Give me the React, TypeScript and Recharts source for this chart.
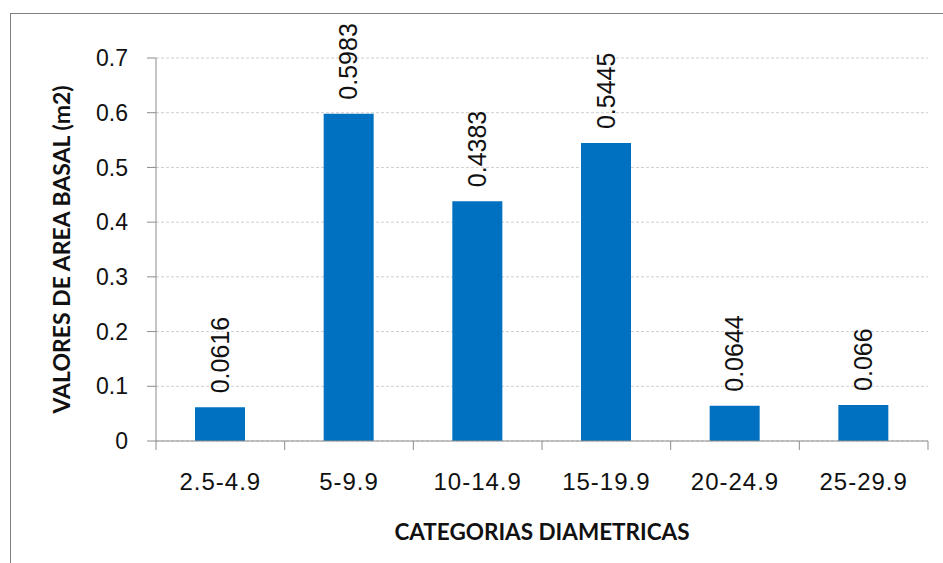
import React from 'react';
import {
  BarChart,
  Bar,
  XAxis,
  YAxis,
  CartesianGrid,
  LabelList,
} from 'recharts';

// diameter classes and basal area values
const categories = ['2.5-4.9', '5-9.9', '10-14.9', '15-19.9', '20-24.9', '25-29.9'];
const basalArea = [0.0616, 0.5983, 0.4383, 0.5445, 0.0644, 0.066];
const yTicks = [0, 0.1, 0.2, 0.3, 0.4, 0.5, 0.6, 0.7];

const data = categories.map((cat, i) => ({ cat, value: basalArea[i] }));

const axisColor = '#8c8c8c';
const textFont = '"Liberation Sans", Arial, sans-serif';
const titleFont = 'Lato, "Open Sans", sans-serif';
const X_TICK = 9;

// Excel style: tick marks sit between categories, labels at the centre
function CategoryTick(props: any) {
  const { x, y, payload, index, width } = props;
  const half = payload && payload.offset ? payload.offset : width / categories.length / 2;
  const top = y - X_TICK;
  return (
    <g>
      <line x1={x - half} x2={x - half} y1={top} y2={y} stroke={axisColor} />
      {index === categories.length - 1 && (
        <line x1={x + half} x2={x + half} y1={top} y2={y} stroke={axisColor} />
      )}
      <text
        x={x}
        y={y + 40}
        textAnchor="middle"
        fontSize={24}
        letterSpacing={1}
        fill="#111"
        fontFamily={textFont}
      >
        {payload.value}
      </text>
    </g>
  );
}

function ValueLabel(props: any) {
  const { x, y, width, value } = props;
  const cx = x + width / 2;
  const ly = y - 14;
  return (
    <text
      x={cx}
      y={ly}
      dy="0.35em"
      transform={`rotate(-90 ${cx} ${ly})`}
      textAnchor="start"
      fontSize={25}
      fill="#111"
      fontFamily={textFont}
    >
      {String(value)}
    </text>
  );
}

export default function App() {
  return (
    <div
      style={{
        position: 'absolute',
        left: 0,
        top: 0,
        width: 943,
        height: 563,
        overflow: 'hidden',
        background: '#fff',
      }}
    >
      <div
        style={{
          position: 'absolute',
          left: 10,
          top: 13,
          width: 1000,
          height: 1000,
          border: '1.5px solid #808080',
        }}
      />
      <div style={{ position: 'absolute', left: 0, top: 0 }}>
        <BarChart
          width={943}
          height={563}
          data={data}
          margin={{ top: 58, right: 15, bottom: 0, left: 0 }}
        >
          <CartesianGrid vertical={false} stroke="#cfcfcf" strokeDasharray="3 2" />
          <XAxis
            dataKey="cat"
            height={122}
            stroke={axisColor}
            tickLine={false}
            tickSize={X_TICK}
            tickMargin={0}
            tick={<CategoryTick />}
            interval={0}
            label={{
              value: 'CATEGORIAS DIAMETRICAS',
              position: 'insideBottom',
              offset: 23,
              fontSize: 22.5,
              fontWeight: 700,
              fontFamily: titleFont,
              fill: '#111',
            }}
          />
          <YAxis
            width={156}
            domain={[0, 0.7]}
            ticks={yTicks}
            interval={0}
            stroke={axisColor}
            tickSize={9}
            tickMargin={19}
            tick={{ fontSize: 23, fill: '#111', fontFamily: textFont }}
            label={{
              value: 'VALORES DE AREA BASAL (m2)',
              angle: -90,
              position: 'insideLeft',
              offset: 62,
              textAnchor: 'middle',
              fontSize: 23,
              fontWeight: 700,
              fontFamily: titleFont,
              fill: '#111',
            }}
          />
          <Bar dataKey="value" fill="#0070C0" barSize={50} isAnimationActive={false}>
            <LabelList dataKey="value" content={<ValueLabel />} />
          </Bar>
        </BarChart>
      </div>
    </div>
  );
}
